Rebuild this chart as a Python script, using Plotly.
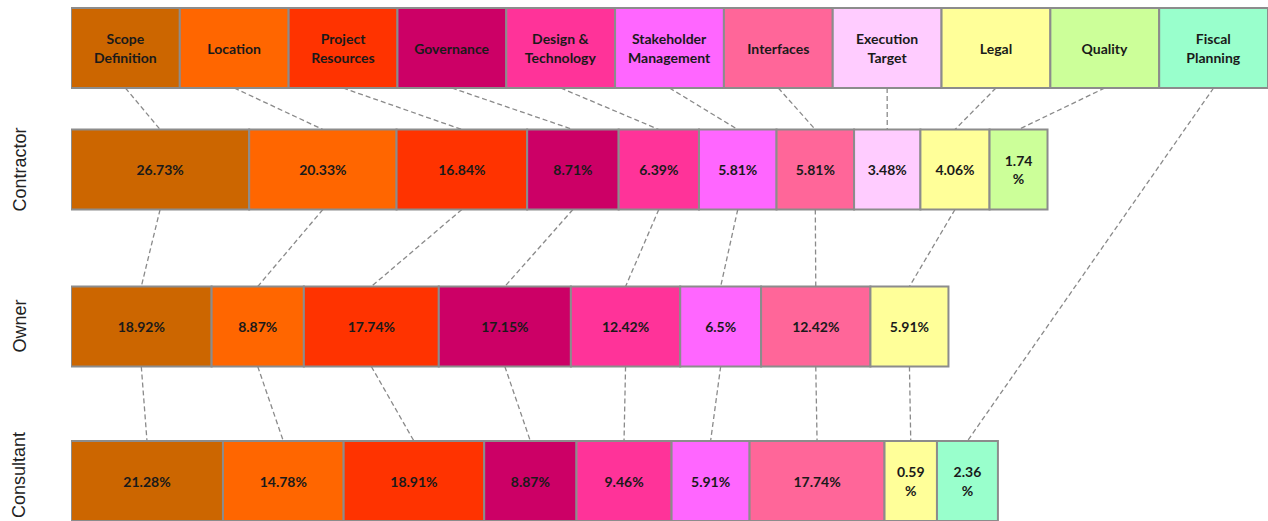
import plotly.graph_objects as go

# ---------------- data ----------------
categories = ["Scope Definition", "Location", "Project Resources", "Governance",
              "Design & Technology", "Stakeholder Management", "Interfaces",
              "Execution Target", "Legal", "Quality", "Fiscal Planning"]
header_labels = ["Scope<br>Definition", "Location", "Project<br>Resources", "Governance",
                 "Design &<br>Technology", "Stakeholder<br>Management", "Interfaces",
                 "Execution<br>Target", "Legal", "Quality", "Fiscal<br>Planning"]
colors = ["#CC6600", "#FF6600", "#FF3300", "#CC0066", "#FF3399", "#FF66FF",
          "#FF6699", "#FFCCFF", "#FFFF99", "#CCFF99", "#99FFCC"]

groups = ["Contractor", "Owner", "Consultant"]
# None = category not present for that group
contractor = [26.73, 20.33, 16.84, 8.71, 6.39, 5.81, 5.81, 3.48, 4.06, 1.74, None]
owner      = [18.92, 8.87, 17.74, 17.15, 12.42, 6.5, 12.42, None, 5.91, None, None]
consultant = [21.28, 14.78, 18.91, 8.87, 9.46, 5.91, 17.74, None, 0.59, None, 2.36]
series = [contractor, owner, consultant]

# ---------------- layout constants ----------------
W, H = 1268, 521
LEFT = 71
XSPAN = W - LEFT
ROW_Y = [48, 169.5, 326.5, 481]
LABEL_Y = [169.5, 326.5, 475]
BAR_H = 80
HEADER_W = XSPAN / len(categories)
# segment display width: fixed minimum + share proportional to value (as in the original diagram)
W_MIN, W_PER_PCT = 49.6, 4.81


def seg_width(v):
    return W_MIN + W_PER_PCT * v


def fmt(v):
    s = f"{v:g}%"
    return s.replace("%", "<br>%") if v < 3 else s


rows = []
hdr = {i: (i * HEADER_W, HEADER_W, header_labels[i]) for i in range(len(categories))}
rows.append(hdr)
for vals in series:
    d = {}
    pos = 0.0
    for i, v in enumerate(vals):
        if v is None:
            continue
        w = seg_width(v)
        d[i] = (pos, w, fmt(v))
        pos += w
    rows.append(d)

fig = go.Figure()

lx, ly = [], []
for i in range(len(categories)):
    present = [r for r in range(len(rows)) if i in rows[r]]
    for a, b in zip(present[:-1], present[1:]):
        ba, wa, _ = rows[a][i]
        bb, wb, _ = rows[b][i]
        lx += [ba + wa / 2, bb + wb / 2, None]
        ly += [ROW_Y[a] + BAR_H / 2, ROW_Y[b] - BAR_H / 2, None]
fig.add_trace(go.Scatter(x=lx, y=ly, mode="lines", hoverinfo="skip", showlegend=False,
                         line=dict(color="#8a8a8a", width=1.3, dash="5px,3px")))

for i, cat in enumerate(categories):
    xs, bs, ys, ts = [], [], [], []
    for r in range(len(rows)):
        if i in rows[r]:
            b, w, t = rows[r][i]
            xs.append(w); bs.append(b); ys.append(ROW_Y[r]); ts.append(t)
    fig.add_trace(go.Bar(
        orientation="h", x=xs, base=bs, y=ys, width=BAR_H, name=cat,
        marker=dict(color=colors[i], line=dict(color="#8c8c8c", width=2)),
        text=ts, textposition="inside", insidetextanchor="middle", textangle=0,
        textfont=dict(family="Lato", size=14, color="#1a1a1a", weight="bold"),
        showlegend=False, hoverinfo="skip", cliponaxis=False,
    ))

for r, g in enumerate(groups):
    fig.add_annotation(text=g, xref="paper", x=0, xshift=-(LEFT - 19), yref="y", y=LABEL_Y[r],
                       textangle=-90, showarrow=False, xanchor="center", yanchor="middle",
                       font=dict(family="Liberation Sans", size=18, color="#222222"))

fig.update_layout(
    width=W, height=H, margin=dict(l=LEFT, r=0, t=0, b=0),
    paper_bgcolor="white", plot_bgcolor="white", barmode="overlay",
    uniformtext=dict(minsize=14, mode="show"),
    xaxis=dict(range=[0, XSPAN], visible=False, fixedrange=True),
    yaxis=dict(range=[H, 0], visible=False, fixedrange=True),
    font=dict(family="Lato"),
    hovermode=False,
)

fig.write_html("out.html", config={"displayModeBar": False, "staticPlot": True},
               post_script="document.body.style.margin='0';document.body.style.overflow='hidden';")
